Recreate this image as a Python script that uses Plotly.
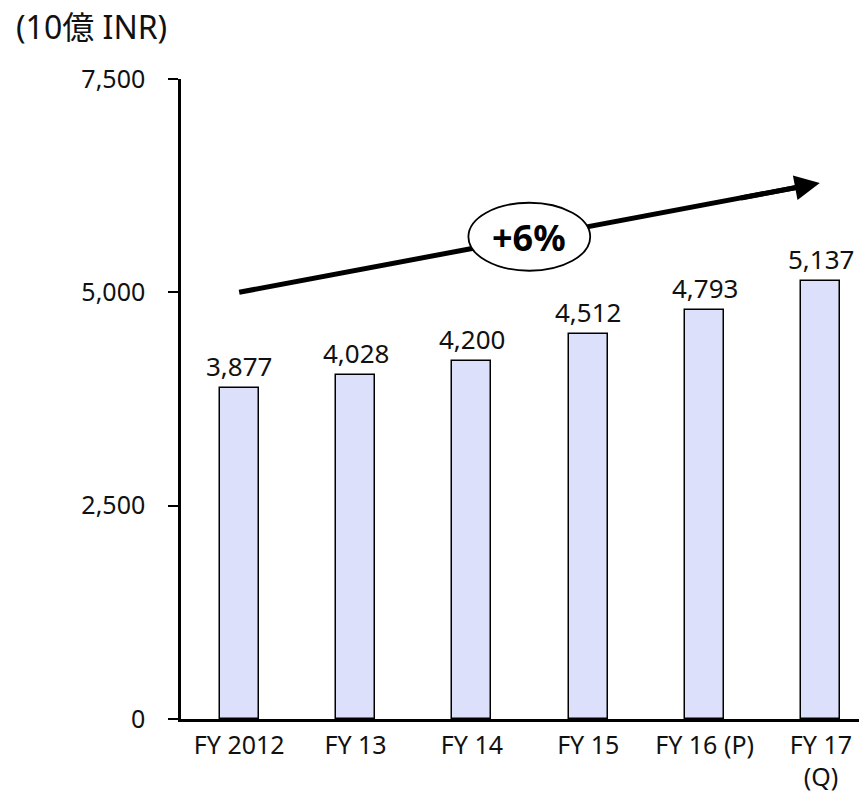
import plotly.graph_objects as go

# Fiscal-year categories and values (INR, units of 10 billion)
categories = ["FY 2012", "FY 13", "FY 14", "FY 15", "FY 16 (P)", "FY 17<br>(Q)"]
values = [3877, 4028, 4200, 4512, 4793, 5137]
value_labels = ["3,877", "4,028", "4,200", "4,512", "4,793", "5,137"]

y_ticks = [0, 2500, 5000, 7500]
y_tick_labels = ["0", "2,500", "5,000", "7,500"]

growth_label = "+6%"
unit_label = "(10億 INR)"

FONT = "Noto Sans, Noto Sans CJK JP, sans-serif"
BAR_FILL = "#dde0fa"
TEXT = "#111"

x_idx = list(range(len(categories)))

fig = go.Figure()
fig.add_trace(go.Bar(
    x=x_idx,
    y=values,
    width=0.335,
    marker=dict(color=BAR_FILL, line=dict(color="black", width=1.5)),
    hoverinfo="skip",
))

# value labels above each bar
for i, (v, lab) in enumerate(zip(values, value_labels)):
    fig.add_annotation(
        x=i, y=v, text=lab, showarrow=False,
        xanchor="center", yanchor="bottom", yshift=2,
        font=dict(family=FONT, size=26, color=TEXT),
    )

# growth trend arrow: straight segment, oval badge over it, then arrow head
trend_start = (0.0, 5000)
trend_end = (4.99, 6280)
fig.add_shape(
    type="line", xref="x", yref="y",
    x0=trend_start[0], y0=trend_start[1], x1=trend_end[0] - 0.1, y1=trend_end[1] - 25,
    line=dict(color="black", width=5), layer="above",
)
fig.add_shape(
    type="circle", xref="x", yref="y",
    x0=1.97, x1=3.017, y0=5253, y1=6050,
    fillcolor="white", line=dict(color="black", width=1.8), layer="above",
)
fig.add_annotation(
    x=trend_end[0], y=trend_end[1], ax=4.3, ay=6103,
    axref="x", ayref="y", xref="x", yref="y",
    text="", showarrow=True, arrowhead=2, arrowsize=1, arrowwidth=5,
    arrowcolor="black",
)
fig.add_annotation(
    x=2.493, y=5640, text=f"<b>{growth_label}</b>", showarrow=False,
    xanchor="center", yanchor="middle",
    font=dict(family=FONT, size=36, color="black"),
)

fig.update_layout(
    width=859, height=797,
    margin=dict(l=181, r=0, t=79, b=78),
    paper_bgcolor="white", plot_bgcolor="white",
    showlegend=False,
    font=dict(family=FONT, size=25, color=TEXT),
    title=dict(
        text=unit_label, x=16 / 859, y=1 - 28 / 797,
        xanchor="left", yanchor="middle", xref="container", yref="container",
        font=dict(family=FONT, size=32, color=TEXT),
    ),
    bargap=0,
)
fig.update_xaxes(
    range=[-0.5, 5.327],
    tickmode="array", tickvals=x_idx, ticktext=categories,
    showline=True, linecolor="black", linewidth=2.5,
    ticks="", showgrid=False, zeroline=False,
    ticklabelstandoff=2, automargin=False,
    tickfont=dict(family=FONT, size=25, color=TEXT),
)
fig.update_yaxes(
    range=[0, 7500],
    tickmode="array", tickvals=y_ticks, ticktext=y_tick_labels,
    showline=True, linecolor="black", linewidth=2.5,
    ticks="outside", ticklen=10, tickwidth=2, tickcolor="black",
    showgrid=False, zeroline=False,
    ticklabelstandoff=18, automargin=False,
    tickfont=dict(family=FONT, size=25, color=TEXT),
)

fig.write_html("out.html")
